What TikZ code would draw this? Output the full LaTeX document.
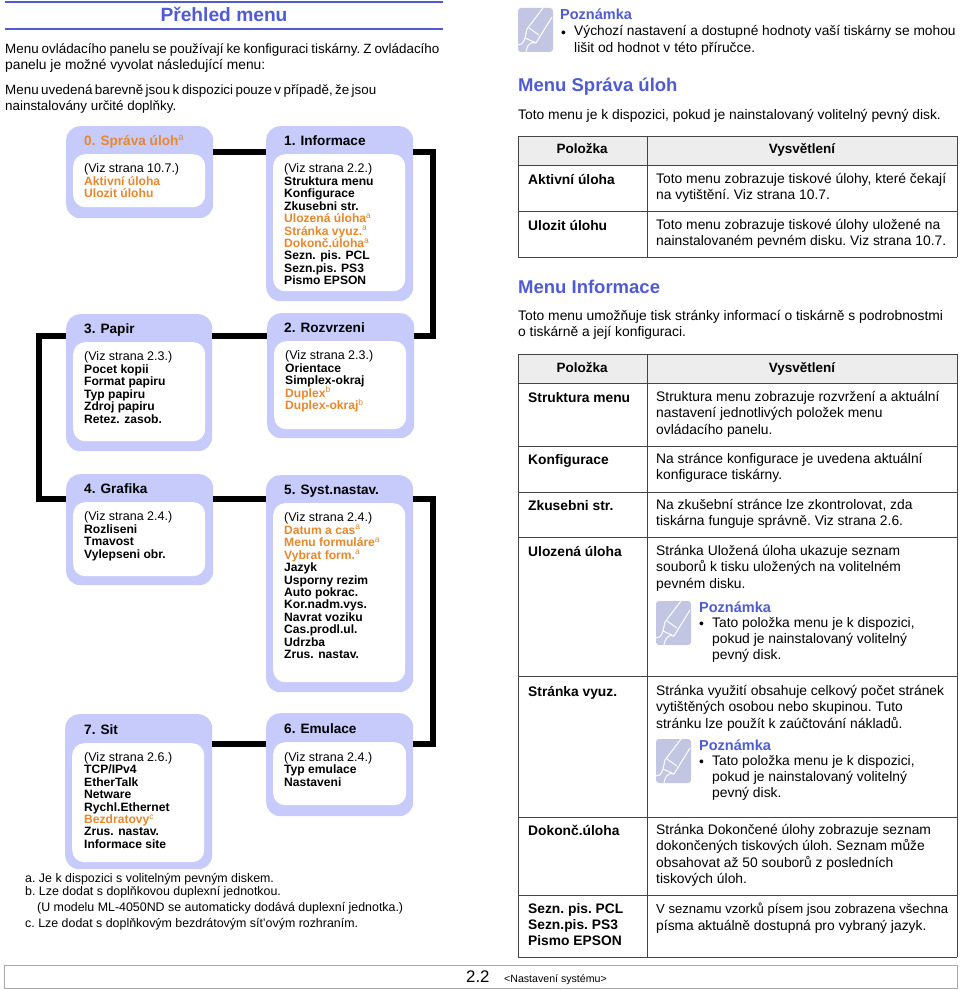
\documentclass[tikz,border=0pt]{standalone}
\usepackage{fontspec}
\setmainfont{Liberation Sans}
\definecolor{HeadBlue}{HTML}{4F5BD5}
\definecolor{BoxLilac}{HTML}{C6CBFB}
\definecolor{ItemOrange}{HTML}{E8872B}
\definecolor{IconLilac}{HTML}{C3C6E3}
\definecolor{HeadGray}{HTML}{EDEDED}
\definecolor{RuleGray}{HTML}{444444}
\definecolor{FootGray}{HTML}{A8A8A8}
\newcommand{\opt}[1]{\textcolor{ItemOrange}{#1}}
\newcommand{\optsup}[2]{\textcolor{ItemOrange}{#1\smash{\textsuperscript{\mdseries #2}}}}
\newcommand{\viz}[1]{{\mdseries\fontsize{12.5}{12.45}\selectfont #1}}
\tikzset{
  menubox/.style={rectangle, rounded corners=14pt, fill=BoxLilac, anchor=north west, inner sep=0pt},
  menuinner/.style={rectangle, rounded corners=12pt, fill=white, anchor=north west, inner sep=0pt},
  menutitle/.style={anchor=north west, inner sep=0pt, font=\fontsize{13.6}{16}\selectfont\bfseries, execute at begin node=\strut},
  menuitems/.style={anchor=north west, inner sep=0pt, align=left, font=\fontsize{12.1}{12.45}\selectfont\bfseries, execute at begin node=\strut},
  menulink/.style={line width=6pt, black, line join=miter},
  leftext/.style={anchor=north west, inner sep=0pt, align=left, font=\fontsize{13.4}{16.3}\selectfont, execute at begin node=\frenchspacing\strut},
  bodytext/.style={anchor=north west, inner sep=0pt, align=left, font=\fontsize{13.85}{16.3}\selectfont, execute at begin node=\frenchspacing\strut},
  celltext/.style={bodytext, font=\fontsize{13.8}{16.3}\selectfont\bfseries},
  headcell/.style={anchor=base, inner sep=0pt, font=\fontsize{13.5}{16.3}\selectfont\bfseries},
  notetitle/.style={bodytext, text=HeadBlue, font=\fontsize{14.5}{16.3}\selectfont\bfseries},
  sectiontitle/.style={anchor=north west, inner sep=0pt, text=HeadBlue, font=\fontsize{18.5}{22}\selectfont\bfseries, execute at begin node=\strut},
  footnotetext/.style={anchor=north west, inner sep=0pt, align=left, font=\fontsize{12.4}{15}\selectfont, execute at begin node=\frenchspacing\strut},
  tablerule/.style={RuleGray, line width=0.9pt},
  notepen/.pic={
    \fill[IconLilac, rounded corners=3pt] (0,0) rectangle (35,44);
    \draw[white, line width=1pt, line join=round] (25,0) -- (9,21) -- (7,30) -- (18,35) -- (34,9);
    \draw[white, line width=1pt] (11,20) -- (21,27);
    \draw[white, line width=1pt] (7,30) .. controls (5,36) and (3,37) .. (0,37);
    \draw[white, line width=1pt] (18,35) .. controls (10,33) and (9,40) .. (8,44);
  },
}
\begin{document}
\begin{tikzpicture}[x=1pt,y=-1pt]
  \useasboundingbox (0,0) rectangle (960,990);
  % page title
  \draw[HeadBlue, line width=2pt] (5,2) -- (443,2);
  \draw[HeadBlue, line width=2pt] (5,29) -- (443,29);
  \node[anchor=center, inner sep=0pt, text=HeadBlue, font=\fontsize{19.2}{22}\selectfont\bfseries] (title) at (224,14.5) {Přehled menu};
  \node[leftext] (intro) at (5,43) {{\spaceskip=3pt\relax Menu ovládacího panelu se používají ke konfiguraci tiskárny. Z ovládacího}\\{\fontsize{13.8}{16.3}\selectfont panelu je možné vyvolat následující menu:}};
  \node[leftext] (introb) at (5,84.5) {{\spaceskip=2.4pt\relax Menu uvedená barevně jsou k dispozici pouze v případě, že jsou}\\nainstalovány určité doplňky.};

  % menu boxes
  \node[menubox, minimum width=147pt, minimum height=92pt] (box0) at (66,126) {};
  \node[menuinner, minimum width=132pt, minimum height=53pt] (in0) at (73,154) {};
  \node[menutitle, text=ItemOrange] (title0) at (84,134) {0. Správa úloh\smash{\textsuperscript{\mdseries a}}};
  \node[menuitems] (items0) at (84,163.5) {\viz{(Viz strana 10.7.)}\\\opt{Aktivní úloha}\\\opt{Ulozit úlohu}};

  \node[menubox, minimum width=147pt, minimum height=175pt] (box1) at (266,126) {};
  \node[menuinner, minimum width=132pt, minimum height=137pt] (in1) at (273,154) {};
  \node[menutitle] (title1) at (284,134) {1. Informace};
  \node[menuitems] (items1) at (284,163.5) {\viz{(Viz strana 2.2.)}\\Struktura menu\\Konfigurace\\Zkusebni str.\\\optsup{Ulozená úloha}{a}\\\optsup{Stránka vyuz.}{a}\\\optsup{Dokonč.úloha}{a}\\Sezn. pis. PCL\\Sezn.pis. PS3\\Pismo EPSON};

  \node[menubox, minimum width=146pt, minimum height=137pt] (box3) at (66,314) {};
  \node[menuinner, minimum width=132pt, minimum height=99pt] (in3) at (73,342) {};
  \node[menutitle] (title3) at (84,322) {3. Papir};
  \node[menuitems] (items3) at (84,351.5) {\viz{(Viz strana 2.3.)}\\Pocet kopii\\Format papiru\\Typ papiru\\Zdroj papiru\\Retez. zasob.};

  \node[menubox, minimum width=147pt, minimum height=125pt] (box2) at (267,313) {};
  \node[menuinner, minimum width=132pt, minimum height=88pt] (in2) at (274,341) {};
  \node[menutitle] (title2) at (284,321) {2. Rozvrzeni};
  \node[menuitems] (items2) at (285,350.5) {\viz{(Viz strana 2.3.)}\\Orientace\\Simplex-okraj\\\optsup{Duplex}{b}\\\optsup{Duplex-okraj}{b}};

  \node[menubox, minimum width=147pt, minimum height=111pt] (box4) at (66,474) {};
  \node[menuinner, minimum width=132pt, minimum height=74pt] (in4) at (73,502) {};
  \node[menutitle] (title4) at (84,482) {4. Grafika};
  \node[menuitems] (items4) at (84,511.5) {\viz{(Viz strana 2.4.)}\\Rozliseni\\Tmavost\\Vylepseni obr.};

  \node[menubox, minimum width=147pt, minimum height=217pt] (box5) at (266,475) {};
  \node[menuinner, minimum width=132pt, minimum height=179pt] (in5) at (273,503) {};
  \node[menutitle] (title5) at (284,483) {5. Syst.nastav.};
  \node[menuitems] (items5) at (284,512.5) {\viz{(Viz strana 2.4.)}\\\optsup{Datum a cas}{a}\\\optsup{Menu formuláre}{a}\\\optsup{Vybrat form.}{a}\\Jazyk\\Usporny rezim\\Auto pokrac.\\Kor.nadm.vys.\\Navrat voziku\\Cas.prodl.ul.\\Udrzba\\Zrus. nastav.};

  \node[menubox, minimum width=147pt, minimum height=103pt] (box6) at (266,713) {};
  \node[menuinner, minimum width=133pt, minimum height=63pt] (in6) at (273,742) {};
  \node[menutitle] (title6) at (284,722) {6. Emulace};
  \node[menuitems] (items6) at (284,752) {\viz{(Viz strana 2.4.)}\\Typ emulace\\Nastaveni};

  \node[menubox, minimum width=147pt, minimum height=155pt] (box7) at (65,714) {};
  \node[menuinner, minimum width=132pt, minimum height=119pt] (in7) at (72,743) {};
  \node[menutitle] (title7) at (84,723) {7. Sit};
  \node[menuitems] (items7) at (84,752) {\viz{(Viz strana 2.6.)}\\TCP/IPv4\\EtherTalk\\Netware\\Rychl.Ethernet\\\optsup{Bezdratovy}{c}\\Zrus. nastav.\\Informace site};

  % links between the boxes
  \draw[menulink] ([yshift=-26pt]box0.north east) -- ([yshift=-26pt]box1.north west);
  \draw[menulink] ([yshift=-26pt]box1.north east) -- ++(20,0) |- ([yshift=-23pt]box2.north east);
  \draw[menulink] ([yshift=-23pt]box2.north west) -- ([yshift=-22pt]box3.north east);
  \draw[menulink] ([yshift=-22pt]box3.north west) -- ++(-27,0) |- ([yshift=-25pt]box4.north west);
  \draw[menulink] ([yshift=-25pt]box4.north east) -- ([yshift=-24pt]box5.north west);
  \draw[menulink] ([yshift=-24pt]box5.north east) -- ++(20,0) |- ([yshift=-31pt]box6.north east);
  \draw[menulink] ([yshift=-31pt]box6.north west) -- ([yshift=-30pt]box7.north east);

  % footnotes
  \node[footnotetext] (notes) at (25,872) {a. Je k dispozici s volitelným pevným diskem.};
  \node[footnotetext] (notesb) at (25,885) {b. Lze dodat s doplňkovou duplexní jednotkou.};
  \node[footnotetext] (notesc) at (37,901) {(U modelu ML-4050ND se automaticky dodává duplexní jednotka.)};
  \node[footnotetext] (notesd) at (25,917) {c. Lze dodat s doplňkovým bezdrátovým sít'ovým rozhraním.};

  % right column, first note
  \pic at (518,8) {notepen};
  \node[notetitle] (note1) at (560,8) {Poznámka};
  \node[bodytext] (bullet1) at (561,25.5) {•};
  \node[bodytext] (note1a) at (574,25.5) {{\fontsize{13.75}{16.3}\selectfont Výchozí nastavení a dostupné hodnoty vaší tiskárny se mohou}\\lišit od hodnot v této příručce.};

  \node[sectiontitle] (menu0) at (518,76) {Menu Správa úloh};
  \node[bodytext] (menu0a) at (518,107.5) {Toto menu je k dispozici, pokud je nainstalovaný volitelný pevný disk.};

  % first table
  \fill[HeadGray] (518,136) rectangle (957,165);
  \foreach \y in {136,165,211,257} \draw[tablerule] (518,\y) -- (957,\y);
  \foreach \x in {518,647,957} \draw[tablerule] (\x,136) -- (\x,257);
  \node[headcell] (heada) at (582,153) {Položka};
  \node[headcell] (headb) at (802,153) {Vysvětlení};
  \node[celltext] (ta1) at (528,173) {Aktivní úloha};
  \node[bodytext] (tb1) at (656,173) {Toto menu zobrazuje tiskové úlohy, které čekají\\na vytištění. Viz strana 10.7.};
  \node[celltext] (ta2) at (528,219) {Ulozit úlohu};
  \node[bodytext] (tb2) at (656,219) {Toto menu zobrazuje tiskové úlohy uložené na\\nainstalovaném pevném disku. Viz strana 10.7.};

  \node[sectiontitle] (menu1) at (518,278) {Menu Informace};
  \node[bodytext] (menu1a) at (518,310) {Toto menu umožňuje tisk stránky informací o tiskárně s podrobnostmi\\o tiskárně a její konfiguraci.};

  % second table
  \fill[HeadGray] (518,354) rectangle (957,383);
  \foreach \y in {354,383,446,492,537,676,817,895,957} \draw[tablerule] (518,\y) -- (957,\y);
  \foreach \x in {518,647,957} \draw[tablerule] (\x,354) -- (\x,957);
  \node[headcell] (headc) at (582,372) {Položka};
  \node[headcell] (headd) at (802,372) {Vysvětlení};
  \node[celltext] (ua1) at (528,391) {Struktura menu};
  \node[bodytext] (ub1) at (656,391) {Struktura menu zobrazuje rozvržení a aktuální\\nastavení jednotlivých položek menu\\ovládacího panelu.};
  \node[celltext] (ua2) at (528,453) {Konfigurace};
  \node[bodytext] (ub2) at (656,453) {Na stránce konfigurace je uvedena aktuální\\konfigurace tiskárny.};
  \node[celltext] (ua3) at (528,499) {Zkusebni str.};
  \node[bodytext] (ub3) at (656,499) {Na zkušební stránce lze zkontrolovat, zda\\tiskárna funguje správně. Viz strana 2.6.};
  \node[celltext] (ua4) at (528,545) {Ulozená úloha};
  \node[bodytext] (ub4) at (656,545) {Stránka Uložená úloha ukazuje seznam\\souborů k tisku uložených na volitelném\\pevném disku.};
  \pic at (656,601) {notepen};
  \node[notetitle] (note2) at (699,601) {Poznámka};
  \node[bodytext] (bullet2) at (699,617) {•};
  \node[bodytext] (note2a) at (712,617) {Tato položka menu je k dispozici,\\pokud je nainstalovaný volitelný\\pevný disk.};
  \node[celltext] (ua5) at (528,685) {Stránka vyuz.};
  \node[bodytext] (ub5) at (656,685) {Stránka využití obsahuje celkový počet stránek\\vytištěných osobou nebo skupinou. Tuto\\stránku lze použít k zaúčtování nákladů.};
  \pic at (656,739) {notepen};
  \node[notetitle] (note3) at (699,739) {Poznámka};
  \node[bodytext] (bullet3) at (699,755) {•};
  \node[bodytext] (note3a) at (712,755) {Tato položka menu je k dispozici,\\pokud je nainstalovaný volitelný\\pevný disk.};
  \node[celltext] (ua6) at (528,824) {Dokonč.úloha};
  \node[bodytext] (ub6) at (656,824) {Stránka Dokončené úlohy zobrazuje seznam\\dokončených tiskových úloh. Seznam může\\obsahovat až 50 souborů z posledních\\tiskových úloh.};
  \node[celltext] (ua7) at (528,903) {Sezn. pis. PCL\\Sezn.pis. PS3\\Pismo EPSON};
  \node[bodytext] (ub7) at (656,903) {{\fontsize{13.1}{16.3}\selectfont V seznamu vzorků písem jsou zobrazena všechna}\\písma aktuálně dostupná pro vybraný jazyk.};

  % page footer
  \draw[FootGray, line width=1pt] (4.5,965.5) rectangle (957.5,988);
  \node[anchor=base west, inner sep=0pt, font=\fontsize{16.8}{20}\selectfont] (pagenum) at (466,982) {2.2};
  \node[anchor=base west, inner sep=0pt, font=\fontsize{10.6}{13}\selectfont] (chapter) at (504,982) {<Nastavení systému>};
\end{tikzpicture}
\end{document}
